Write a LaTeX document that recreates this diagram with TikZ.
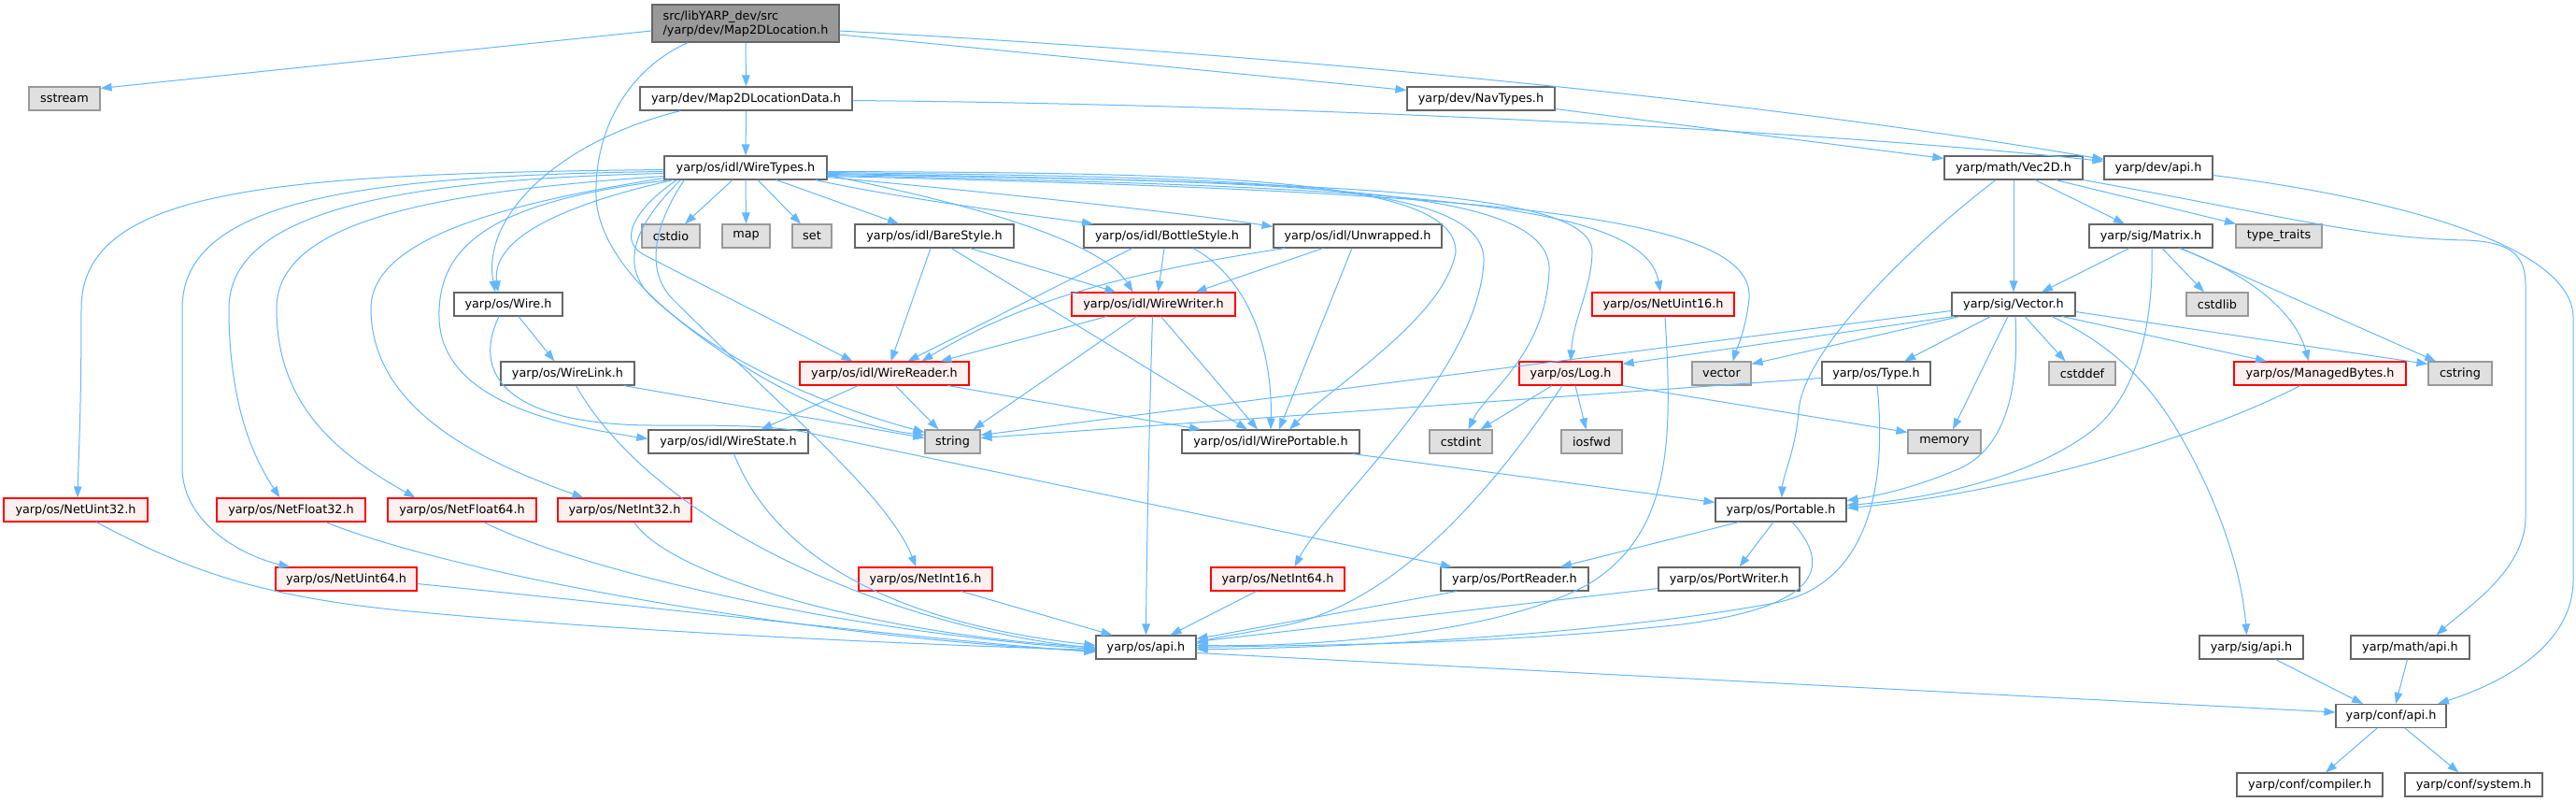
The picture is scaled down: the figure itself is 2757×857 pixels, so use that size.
\documentclass[tikz,border=0pt]{standalone}
\usepackage{fontspec}
\setmainfont{DejaVu Sans}
\usetikzlibrary{arrows.meta}
\definecolor{edgec}{HTML}{63B8FF}
\definecolor{boxd}{HTML}{666666}
\definecolor{sysf}{HTML}{E0E0E0}
\definecolor{sysd}{HTML}{999999}
\definecolor{redf}{HTML}{FFF0F0}
\definecolor{redd}{HTML}{FF0000}
\definecolor{rootf}{HTML}{999999}
\tikzset{
  nb/.style={draw=boxd, fill=white, line width=1.1pt, inner sep=0pt, minimum height=25pt, font=\fontsize{12.8}{15}\selectfont},
  sb/.style={nb, draw=sysd, fill=sysf},
  rb/.style={nb, draw=redd, fill=redf},
  rootb/.style={nb, draw=boxd, fill=rootf, minimum height=40pt, align=left},
  ed/.style={draw=edgec, line width=1pt, -{Triangle[length=12pt,width=8.5pt]}},
}
\begin{document}
\begin{tikzpicture}[x=1pt,y=-1pt]
\useasboundingbox (0,0) rectangle (2757,857);
\fill[white] (0,0) rectangle (2757,857);
% nodes
\node[rootb, minimum width=200pt] (root) at (798,25) {src/libYARP\_dev/src\\/yarp/dev/Map2DLocation.h};
\node[sb, minimum width=76pt] (sstream) at (69,105.5) {sstream};
\node[nb, minimum width=227pt] (M2DLD) at (798.5,105.5) {yarp/dev/Map2DLocationData.h};
\node[nb, minimum width=158pt] (NavTypes) at (1585,105.5) {yarp/dev/NavTypes.h};
\node[nb, minimum width=174pt] (WT) at (798,179.5) {yarp/os/idl/WireTypes.h};
\node[nb, minimum width=148pt] (Vec2D) at (2155,179.5) {yarp/math/Vec2D.h};
\node[nb, minimum width=116pt] (devapi) at (2310,179.5) {yarp/dev/api.h};
\node[sb, minimum width=62pt] (cstdio) at (718,252.5) {cstdio};
\node[sb, minimum width=51pt] (map) at (798.5,252.5) {map};
\node[sb, minimum width=42pt] (set) at (869,252.5) {set};
\node[nb, minimum width=170pt] (BareStyle) at (1000,252.5) {yarp/os/idl/BareStyle.h};
\node[nb, minimum width=178pt] (BottleStyle) at (1249,252.5) {yarp/os/idl/BottleStyle.h};
\node[nb, minimum width=180pt] (Unwrapped) at (1453,252.5) {yarp/os/idl/Unwrapped.h};
\node[nb, minimum width=132pt] (Matrix) at (2302,252.5) {yarp/sig/Matrix.h};
\node[sb, minimum width=92pt] (typetraits) at (2439,252.5) {type\_traits};
\node[nb, minimum width=116pt] (Wire) at (544,325.5) {yarp/os/Wire.h};
\node[rb, minimum width=175pt] (WireWriter) at (1234.5,325.5) {yarp/os/idl/WireWriter.h};
\node[rb, minimum width=152pt] (NetUint16) at (1780,325.5) {yarp/os/NetUint16.h};
\node[nb, minimum width=132pt] (Vector) at (2155,325.5) {yarp/sig/Vector.h};
\node[sb, minimum width=66pt] (cstdlib) at (2373,325.5) {cstdlib};
\node[nb, minimum width=143pt] (WireLink) at (607.5,399.5) {yarp/os/WireLink.h};
\node[rb, minimum width=181pt] (WireReader) at (946.5,399.5) {yarp/os/idl/WireReader.h};
\node[rb, minimum width=110pt] (Log) at (1681,399.5) {yarp/os/Log.h};
\node[sb, minimum width=63pt] (vectorh) at (1842.5,399.5) {vector};
\node[nb, minimum width=116pt] (Type) at (2008,399.5) {yarp/os/Type.h};
\node[sb, minimum width=71pt] (cstddef) at (2228.5,399.5) {cstddef};
\node[rb, minimum width=184pt] (ManagedBytes) at (2483,399.5) {yarp/os/ManagedBytes.h};
\node[sb, minimum width=68pt] (cstring) at (2633,399.5) {cstring};
\node[nb, minimum width=171pt] (WireState) at (779.5,472.5) {yarp/os/idl/WireState.h};
\node[sb, minimum width=59pt] (stringh) at (1019.5,472.5) {string};
\node[nb, minimum width=190pt] (WirePortable) at (1360,472.5) {yarp/os/idl/WirePortable.h};
\node[sb, minimum width=67pt] (cstdint) at (1563.5,472.5) {cstdint};
\node[sb, minimum width=65pt] (iosfwd) at (1703.5,472.5) {iosfwd};
\node[sb, minimum width=78pt] (memory) at (2081,472.5) {memory};
\node[rb, minimum width=154pt] (NetUint32) at (81,545.5) {yarp/os/NetUint32.h};
\node[rb, minimum width=159pt] (NetFloat32) at (311.5,545.5) {yarp/os/NetFloat32.h};
\node[rb, minimum width=159pt] (NetFloat64) at (494.5,545.5) {yarp/os/NetFloat64.h};
\node[rb, minimum width=143pt] (NetInt32) at (668.5,545.5) {yarp/os/NetInt32.h};
\node[nb, minimum width=140pt] (Portable) at (1906,545.5) {yarp/os/Portable.h};
\node[rb, minimum width=151pt] (NetUint64) at (370.5,619.5) {yarp/os/NetUint64.h};
\node[rb, minimum width=143pt] (NetInt16) at (990.5,619.5) {yarp/os/NetInt16.h};
\node[rb, minimum width=143pt] (NetInt64) at (1367.5,619.5) {yarp/os/NetInt64.h};
\node[nb, minimum width=158pt] (PortReader) at (1621,619.5) {yarp/os/PortReader.h};
\node[nb, minimum width=151pt] (PortWriter) at (1850.5,619.5) {yarp/os/PortWriter.h};
\node[nb, minimum width=107pt] (osapi) at (1226.5,692.5) {yarp/os/api.h};
\node[nb, minimum width=111pt] (sigapi) at (2409.5,692.5) {yarp/sig/api.h};
\node[nb, minimum width=127pt] (mathapi) at (2579.5,692.5) {yarp/math/api.h};
\node[nb, minimum width=118pt] (confapi) at (2559,766) {yarp/conf/api.h};
\node[nb, minimum width=156pt] (compiler) at (2472,839.5) {yarp/conf/compiler.h};
\node[nb, minimum width=147pt] (systemh) at (2647.5,839.5) {yarp/conf/system.h};

% root edges
\draw[ed] ([yshift=-8pt]root.west) -- ([yshift=-2pt]sstream.north east);
\draw[ed] ([xshift=39pt]root.south west) .. controls (680,70) and (636,130) .. (638,210) .. controls (640,290) and (760,400) .. ([yshift=10pt]stringh.west);
\draw[ed] (root.south) -- (M2DLD.north);
\draw[ed] ([yshift=-12pt]root.east) -- ([yshift=9pt]NavTypes.west);
\draw[ed] ([yshift=-8pt]root.east) .. controls (1400,60) and (1900,110) .. ([yshift=9pt]devapi.west);
% Map2DLocationData
\draw[ed] (M2DLD.south) -- (WT.north);
\draw[ed] ([yshift=-2pt]M2DLD.east) .. controls (1400,112) and (1950,140) .. ([yshift=7pt]devapi.west);
\draw[ed] ([xshift=-70pt]M2DLD.south) .. controls (600,150) and (515,230) .. ([xshift=-14pt]Wire.north);
% NavTypes
\draw[ed] ([yshift=-11pt]NavTypes.east) -- ([yshift=10pt]Vec2D.west);
% WireTypes left bundle
\draw[ed] ([yshift=-2pt]WT.west) .. controls (300,186) and (87,200) .. (87,330) .. controls (87,440) and (84,490) .. ([xshift=2pt]NetUint32.north);
\draw[ed] ([yshift=-4pt]WT.west) .. controls (380,188) and (195,215) .. (195,330) -- (195,500) .. controls (195,560) and (260,595) .. ([xshift=-60pt]NetUint64.north);
\draw[ed] ([yshift=-6pt]WT.west) .. controls (430,192) and (245,225) .. (245,330) .. controls (245,440) and (275,495) .. ([xshift=-12pt]NetFloat32.north);
\draw[ed] ([yshift=-9pt]WT.west) .. controls (470,205) and (296,235) .. (296,330) .. controls (296,440) and (370,490) .. ([xshift=-50pt]NetFloat64.north);
\draw[ed] ([yshift=-11pt]WT.west) .. controls (560,215) and (397,250) .. (397,330) .. controls (397,440) and (520,495) .. ([xshift=-44pt]NetInt32.north);
\draw[ed] ([xshift=6pt]WT.south west) .. controls (530,215) and (468,260) .. (470,340) .. controls (472,430) and (600,455) .. ([yshift=3pt]WireState.west);
\draw[ed] ([xshift=10pt]WT.south west) .. controls (620,215) and (525,250) .. ([xshift=-11pt]Wire.north);
\draw[ed] ([xshift=14pt]WT.south west) .. controls (690,215) and (655,255) .. (690,273) -- ([xshift=-34pt]WireReader.north);
\draw[ed] ([xshift=18pt]WT.south west) .. controls (690,230) and (655,280) .. (700,320) .. controls (790,400) and (900,455) .. ([yshift=7pt]stringh.west);
\draw[ed] ([xshift=22pt]WT.south west) .. controls (700,240) and (690,290) .. (720,320) .. controls (840,440) and (950,530) .. ([xshift=-10pt]NetInt16.north);
% WireTypes down
\draw[ed] ([xshift=-14pt]WT.south) -- ([xshift=15pt]cstdio.north);
\draw[ed] (WT.south) -- (map.north);
\draw[ed] ([xshift=13pt]WT.south) -- ([xshift=-12pt]set.north);
\draw[ed] ([xshift=33pt]WT.south) -- ([xshift=-38pt]BareStyle.north);
\draw[ed] ([xshift=75pt]WT.south) .. controls (950,210) and (1100,230) .. ([xshift=-79pt]BottleStyle.north);
\draw[ed] ([yshift=-10pt]WT.east) .. controls (1000,200) and (1250,225) .. ([yshift=-3pt]Unwrapped.north west);
\draw[ed] ([yshift=-8pt]WT.east) .. controls (1050,220) and (1180,260) .. ([xshift=-22pt]WireWriter.north);
% WireTypes right bundle
\draw[ed] ([yshift=-4pt]WT.east) .. controls (1300,185) and (1560,190) .. (1558,270) .. controls (1545,340) and (1430,410) .. ([xshift=20pt]WirePortable.north);
\draw[ed] ([yshift=-5pt]WT.east) .. controls (1350,190) and (1592,195) .. (1588,280) .. controls (1582,400) and (1420,540) .. ([xshift=18pt]NetInt64.north);
\draw[ed] ([yshift=-6pt]WT.east) .. controls (1400,195) and (1662,200) .. (1658,290) .. controls (1654,380) and (1590,420) .. ([xshift=8pt]cstdint.north);
\draw[ed] ([yshift=-7pt]WT.east) .. controls (1450,195) and (1705,205) .. (1704,270) .. controls (1703,310) and (1684,340) .. (Log.north);
\draw[ed] ([yshift=-8pt]WT.east) .. controls (1500,200) and (1760,215) .. ([xshift=-3pt]NetUint16.north);
\draw[ed] ([yshift=-9pt]WT.east) .. controls (1600,205) and (1880,230) .. (1872,320) .. controls (1868,355) and (1858,375) .. ([xshift=12pt]vectorh.north);
% idl styles
\draw[ed] ([xshift=-4pt]BareStyle.south) -- ([xshift=7pt]WireReader.north);
\draw[ed] ([xshift=18pt]BareStyle.south) -- ([xshift=-25pt]WirePortable.north);
\draw[ed] ([xshift=38pt]BareStyle.south) -- ([xshift=-40pt]WireWriter.north);
\draw[ed] ([xshift=-37pt]BottleStyle.south) -- ([xshift=25pt]WireReader.north);
\draw[ed] ([xshift=-3pt]BottleStyle.south) -- ([xshift=5pt]WireWriter.north);
\draw[ed] ([xshift=28pt]BottleStyle.south) .. controls (1340,300) and (1362,380) .. (WirePortable.north);
\draw[ed] ([xshift=-78pt]Unwrapped.south) .. controls (1180,295) and (1080,330) .. ([xshift=40pt]WireReader.north);
\draw[ed] ([xshift=-37pt]Unwrapped.south) -- ([xshift=45pt]WireWriter.north);
\draw[ed] ([xshift=-6pt]Unwrapped.south) -- ([xshift=9pt]WirePortable.north);
% WireWriter
\draw[ed] ([xshift=-50pt]WireWriter.south) -- ([xshift=60pt]WireReader.north);
\draw[ed] ([xshift=-18pt]WireWriter.south) -- ([xshift=22pt]stringh.north);
\draw[ed] ([xshift=-1pt]WireWriter.south) .. controls (1230,450) and (1227,600) .. (osapi.north);
\draw[ed] ([xshift=8pt]WireWriter.south) -- ([xshift=-14pt]WirePortable.north);
% WireReader
\draw[ed] ([xshift=-28pt]WireReader.south) -- ([xshift=35pt]WireState.north);
\draw[ed] ([xshift=12pt]WireReader.south) -- ([xshift=-15pt]stringh.north);
\draw[ed] ([xshift=68pt]WireReader.south) -- ([xshift=-75pt]WirePortable.north);
% WireState, WirePortable
\draw[ed] ([xshift=6pt]WireState.south) .. controls (815,560) and (900,660) .. ([yshift=2pt]osapi.west);
\draw[ed] ([xshift=-8pt]WirePortable.south east) -- ([yshift=8pt]Portable.west);
% Wire, WireLink
\draw[ed] ([xshift=11pt]Wire.south) -- ([xshift=-14pt]WireLink.north);
\draw[ed] ([xshift=-10pt]Wire.south) .. controls (500,410) and (560,455) .. (700,455) .. controls (780,455) and (820,455) .. (860,462) -- ([xshift=-67pt]PortReader.north);
\draw[ed] ([xshift=60pt]WireLink.south) -- ([yshift=4pt]stringh.west);
\draw[ed] ([xshift=9pt]WireLink.south) .. controls (700,560) and (950,670) .. ([yshift=-1pt]osapi.west);
% Net* to os/api
\draw[ed] ([xshift=22pt]NetUint32.south) .. controls (200,610) and (280,640) .. (450,655) .. controls (700,678) and (1000,690) .. ([yshift=-3pt]osapi.west);
\draw[ed] ([yshift=-5pt]NetUint64.east) .. controls (800,660) and (1000,685) .. ([yshift=-5pt]osapi.west);
\draw[ed] ([xshift=37pt]NetFloat32.south) .. controls (500,620) and (900,685) .. ([yshift=-4pt]osapi.west);
\draw[ed] ([xshift=23pt]NetFloat64.south) .. controls (620,610) and (900,675) .. ([yshift=-2pt]osapi.west);
\draw[ed] ([xshift=10pt]NetInt32.south) .. controls (720,620) and (950,680) .. (osapi.west);
\draw[ed] ([xshift=38pt]NetInt16.south) -- ([xshift=-36pt]osapi.north);
\draw[ed] ([xshift=-23pt]NetInt64.south) -- ([xshift=26pt]osapi.north);
% into os/api right side
\draw[ed] ([xshift=-62pt]PortReader.south) -- ([yshift=9pt]osapi.east);
\draw[ed] ([yshift=-10pt]PortWriter.west) -- ([yshift=6pt]osapi.east);
\draw[ed] ([xshift=12pt]Portable.south) .. controls (1965,610) and (1940,650) .. (1800,668) .. controls (1600,690) and (1400,690) .. (osapi.east);
\draw[ed] ([xshift=-9pt]Log.south) .. controls (1600,520) and (1500,640) .. (1380,668) .. controls (1330,678) and (1300,682) .. ([yshift=4pt]osapi.east);
\draw[ed] ([xshift=2pt]NetUint16.south) .. controls (1790,470) and (1790,570) .. (1700,625) .. controls (1600,680) and (1400,692) .. ([yshift=2pt]osapi.east);
\draw[ed] ([xshift=1pt]Type.south) .. controls (2020,520) and (2000,625) .. (1900,645) .. controls (1700,682) and (1400,694) .. ([yshift=-2pt]osapi.east);
% Portable
\draw[ed] ([xshift=-45pt]Portable.south) -- ([xshift=49pt]PortReader.north);
\draw[ed] ([xshift=-8pt]Portable.south) -- ([xshift=11pt]PortWriter.north);
% Log
\draw[ed] ([xshift=-20pt]Log.south) -- ([xshift=21pt]cstdint.north);
\draw[ed] ([xshift=5pt]Log.south) -- ([xshift=-6pt]iosfwd.north);
\draw[ed] (Log.south east) -- ([yshift=-3pt]memory.north west);
% Type
\draw[ed] ([yshift=-5pt]Type.west) -- ([yshift=4pt]stringh.east);
% Vec2D
\draw[ed] (Vec2D.south) -- (Vector.north);
\draw[ed] ([xshift=23pt]Vec2D.south) -- ([xshift=-28pt]Matrix.north);
\draw[ed] ([xshift=45pt]Vec2D.south) -- ([xshift=-46pt]typetraits.north);
\draw[ed] (Vec2D.south east) .. controls (2450,232) and (2530,255) .. (2640,257) .. controls (2690,259) and (2703,275) .. (2703,305) -- (2703,553) .. controls (2703,610) and (2640,650) .. ([xshift=28pt]mathapi.north);
\draw[ed] ([xshift=-19pt]Vec2D.south) .. controls (2060,250) and (1930,370) .. (1925,440) .. controls (1922,480) and (1908,510) .. ([xshift=1pt]Portable.north);
% dev/api
\draw[ed] ([yshift=-8pt]devapi.east) .. controls (2550,210) and (2754,260) .. (2754,340) -- (2754,620) .. controls (2754,690) and (2680,730) .. ([xshift=50pt]confapi.north);
% Matrix
\draw[ed] ([xshift=-23pt]Matrix.south) -- ([xshift=30pt]Vector.north);
\draw[ed] ([xshift=12pt]Matrix.south) -- ([xshift=-14pt]cstdlib.north);
\draw[ed] ([xshift=30pt]Matrix.south) .. controls (2400,290) and (2455,330) .. ([xshift=-12pt]ManagedBytes.north);
\draw[ed] ([xshift=32pt]Matrix.south) -- ([xshift=-26pt]cstring.north);
\draw[ed] ([xshift=1pt]Matrix.south) .. controls (2305,340) and (2290,420) .. (2240,460) .. controls (2170,515) and (2050,535) .. ([yshift=5pt]Portable.east);
% Vector
\draw[ed] ([yshift=-7pt]Vector.west) -- ([yshift=7pt]stringh.east);
\draw[ed] ([xshift=3pt]Vector.south west) -- ([yshift=-3pt]Log.north east);
\draw[ed] ([xshift=9pt]Vector.south west) -- ([yshift=-3pt]vectorh.north east);
\draw[ed] ([xshift=42pt]Vector.south west) -- ([xshift=30pt]Type.north);
\draw[ed] ([xshift=-6pt]Vector.south) -- ([xshift=9pt]memory.north);
\draw[ed] ([xshift=2pt]Vector.south) .. controls (2162,430) and (2140,480) .. (2100,500) .. controls (2050,522) and (2010,530) .. ([yshift=10pt]Portable.east);
\draw[ed] ([xshift=12pt]Vector.south) -- ([xshift=-18pt]cstddef.north);
\draw[ed] ([xshift=41pt]Vector.south) .. controls (2262,370) and (2300,410) .. (2330,460) .. controls (2380,545) and (2400,620) .. ([xshift=-5pt]sigapi.north);
\draw[ed] ([xshift=52pt]Vector.south) -- ([xshift=-57pt]ManagedBytes.north);
\draw[ed] ([yshift=-8pt]Vector.east) -- ([yshift=-3pt]cstring.north west);
% ManagedBytes
\draw[ed] ([xshift=-21pt]ManagedBytes.south) .. controls (2350,470) and (2150,528) .. ([yshift=2pt]Portable.east);
% api chain
\draw[ed] ([xshift=26pt]sigapi.south) -- ([xshift=-30pt]confapi.north);
\draw[ed] ([xshift=-3pt]mathapi.south) -- ([xshift=5pt]confapi.north);
\draw[ed] ([yshift=-6pt]osapi.east) -- ([yshift=4pt]confapi.west);
\draw[ed] ([xshift=-15pt]confapi.south) -- ([xshift=17pt]compiler.north);
\draw[ed] ([xshift=15pt]confapi.south) -- ([xshift=-16pt]systemh.north);
\end{tikzpicture}
\end{document}
